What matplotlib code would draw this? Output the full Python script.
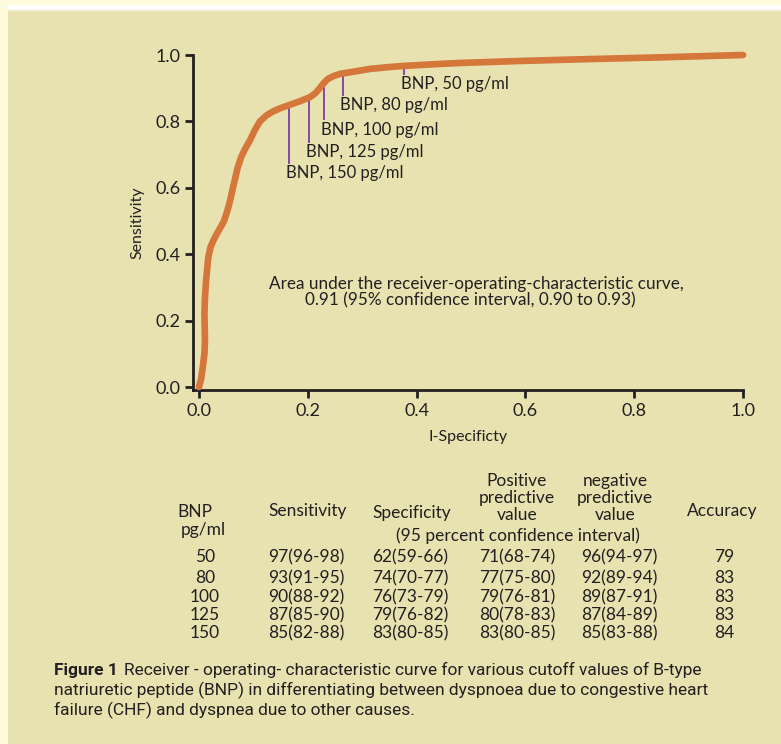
import matplotlib
matplotlib.use('Agg')
import matplotlib.pyplot as plt
from matplotlib.patches import Rectangle

# ROC curve (1 - specificity, sensitivity)
fpr = [0.0, 0.004, 0.007, 0.010, 0.011, 0.010, 0.011, 0.013, 0.017, 0.021, 0.026,
       0.034, 0.041, 0.046, 0.052, 0.057, 0.061, 0.066, 0.071, 0.077, 0.084,
       0.094, 0.103, 0.112, 0.124, 0.136, 0.150, 0.167, 0.186, 0.204, 0.214,
       0.222, 0.229, 0.237, 0.248, 0.259, 0.285, 0.314, 0.345, 0.375, 0.43,
       0.48, 0.59, 0.70, 0.85, 1.0]
tpr = [0.0, 0.025, 0.06, 0.10, 0.14, 0.22, 0.27, 0.32, 0.39, 0.42, 0.44,
       0.465, 0.485, 0.50, 0.53, 0.56, 0.59, 0.625, 0.66, 0.69, 0.715,
       0.744, 0.775, 0.80, 0.818, 0.83, 0.84, 0.85, 0.861, 0.873, 0.885,
       0.90, 0.915, 0.928, 0.937, 0.943, 0.950, 0.958, 0.963, 0.967, 0.972,
       0.976, 0.982, 0.987, 0.993, 1.0]

# cutoff markers
cut_labels = ['BNP, 150 pg/ml', 'BNP, 125 pg/ml', 'BNP, 100 pg/ml', 'BNP, 80 pg/ml', 'BNP, 50 pg/ml']
cut_x = [0.165, 0.202, 0.230, 0.265, 0.377]
cut_top = [0.85, 0.873, 0.915, 0.945, 0.967]
cut_bottom = [0.675, 0.738, 0.807, 0.880, 0.943]

# table
bnp = ['50', '80', '100', '125', '150']
sensitivity = ['97(96-98)', '93(91-95)', '90(88-92)', '87(85-90)', '85(82-88)']
specificity = ['62(59-66)', '74(70-77)', '76(73-79)', '79(76-82)', '83(80-85)']
ppv = ['71(68-74)', '77(75-80)', '79(76-81)', '80(78-83)', '83(80-85)']
npv = ['96(94-97)', '92(89-94)', '89(87-91)', '87(84-89)', '85(83-88)']
accuracy = ['79', '83', '83', '83', '84']

W, H = 781, 744
font = ['Lato', 'DejaVu Sans']
txt = '#231f20'
panel = '#e8e2b1'

fig = plt.figure(figsize=(W / 100, H / 100), dpi=100)
fig.patch.set_facecolor('#fffbdc')

def fx(px):
    return px / W

def fy(py):
    return 1 - py / H

fig.patches.append(Rectangle((fx(8), 0), 1 - fx(8), fy(10), transform=fig.transFigure,
                             facecolor=panel, edgecolor='none', zorder=-5))
fig.patches.append(Rectangle((fx(8), fy(10)), 1 - fx(8), fy(5) - fy(10), transform=fig.transFigure,
                             facecolor='white', edgecolor='none', zorder=-5))
fig.patches.append(Rectangle((fx(8), fy(12)), 1 - fx(8), fy(10) - fy(12), transform=fig.transFigure,
                             facecolor='#efeac6', edgecolor='none', zorder=-5))

ax = fig.add_axes([fx(193), fy(390), fx(743) - fx(193), fy(55) - fy(390)])
ax.set_zorder(2)
ax.set_facecolor('none')
ax.plot(fpr, tpr, color='#d5763b', lw=4.8, solid_capstyle='round',
        solid_joinstyle='round', clip_on=False, zorder=3)

for x, t, b, lab in zip(cut_x, cut_top, cut_bottom, cut_labels):
    ax.plot([x, x], [b, t], color='#8448a6', lw=1.4, zorder=2)
    ax.text(x - 0.005, b - 0.027, lab, ha='left', va='center_baseline', fontsize=12,
            family=font, color=txt)

ax.text(0.51, 0.31, 'Area under the receiver-operating-characteristic curve,',
        ha='center', va='center', fontsize=12.3, family=font, color=txt)
ax.text(0.195, 0.262, '0.91 (95% confidence interval, 0.90 to 0.93)',
        ha='left', va='center', fontsize=12.3, family=font, color=txt)

ax.set_xlim(-0.011, 1.0)
ax.set_ylim(-0.009, 1.0)
ax.set_xticks([0.0, 0.2, 0.4, 0.6, 0.8, 1.0])
ax.set_yticks([0.0, 0.2, 0.4, 0.6, 0.8, 1.0])
ax.set_xticklabels(['0.0', '0.2', '0.4', '0.6', '0.8', '1.0'], family=font, fontsize=13, color=txt)
ax.set_yticklabels(['0.0', '0.2', '0.4', '0.6', '0.8', '1.0'], family=font, fontsize=13, color=txt)
ax.tick_params(direction='out', length=6, width=2, color=txt, pad=3)
for s in ['top', 'right']:
    ax.spines[s].set_visible(False)
for s in ['left', 'bottom']:
    ax.spines[s].set_linewidth(2)
    ax.spines[s].set_color(txt)
ax.set_xlabel('I-Specificty', family=font, fontsize=11.5, color=txt, labelpad=8)
ax.set_ylabel('Sensitivity', family=font, fontsize=11.5, color=txt, labelpad=8)

# table
tk = dict(family=font, fontsize=12.5, color=txt)
fig.text(fx(195), fy(512), 'BNP', ha='center', va='center', **tk)
fig.text(fx(203), fy(530), 'pg/ml', ha='center', va='center', **tk)
fig.text(fx(308), fy(511), 'Sensitivity', ha='center', va='center', **tk)
fig.text(fx(412), fy(513), 'Specificity', ha='center', va='center', **tk)
fig.text(fx(517), fy(498), 'Positive\npredictive\nvalue', ha='center', va='center',
         linespacing=1.1, **tk)
fig.text(fx(615), fy(498), 'negative\npredictive\nvalue', ha='center', va='center',
         linespacing=1.1, **tk)
fig.text(fx(722), fy(511), 'Accuracy', ha='center', va='center', **tk)
fig.text(fx(518), fy(536), '(95 percent confidence interval)', ha='center', va='center', **tk)

row_y = [557, 578, 597, 615, 633]
for i, ry in enumerate(row_y):
    fig.text(fx(205), fy(ry), bnp[i], ha='center', va='center', **tk)
    fig.text(fx(268), fy(ry), sensitivity[i], ha='left', va='center', **tk)
    fig.text(fx(372), fy(ry), specificity[i], ha='left', va='center', **tk)
    fig.text(fx(479), fy(ry), ppv[i], ha='left', va='center', **tk)
    fig.text(fx(581), fy(ry), npv[i], ha='left', va='center', **tk)
    fig.text(fx(724), fy(ry), accuracy[i], ha='center', va='center', **tk)

# caption
cap_font = ['Roboto', 'DejaVu Sans']
cap = dict(family=cap_font, fontsize=12.5, color=txt, ha='left', va='center')
fig.text(fx(54), fy(670), 'Figure 1', fontweight='bold', **cap)
fig.text(fx(124), fy(670), 'Receiver - operating- characteristic curve for various cutoff values of B-type', **cap)
fig.text(fx(54), fy(690), 'natriuretic peptide (BNP) in differentiating between dyspnoea due to congestive heart', **cap)
fig.text(fx(54), fy(710), 'failure (CHF) and dyspnea due to other causes.', **cap)

fig.savefig('out.png', dpi=100, facecolor=fig.get_facecolor())
